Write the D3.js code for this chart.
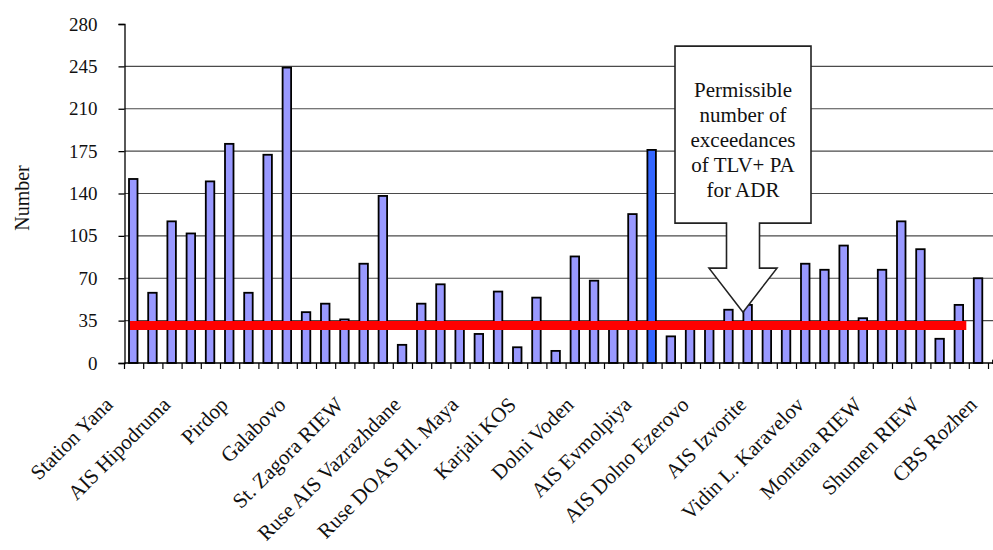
<!DOCTYPE html>
<html>
<head>
<meta charset="utf-8">
<script src="https://cdn.jsdelivr.net/npm/d3@7"></script>
<style>
  html, body { margin: 0; padding: 0; background: #fff; }
  svg { display: block; font-family: "Liberation Serif", "Times New Roman", serif; }
</style>
</head>
<body>
<svg id="chart" width="993" height="550"></svg>
<script>
// ---- data ----
const categories = [
  "Station Yana", "", "", "AIS Hipodruma", "", "", "Pirdop", "", "", "Galabovo", "", "",
  "St. Zagora RIEW", "", "", "Ruse AIS Vazrazhdane", "", "", "Ruse DOAS Hl. Maya", "", "",
  "Karjali KOS", "", "", "Dolni Voden", "", "", "AIS Evmolpiya", "", "", "AIS Dolno Ezerovo", "", "",
  "AIS Izvorite", "", "", "Vidin L. Karavelov", "", "", "Montana RIEW", "", "", "Shumen RIEW", "", "",
  "CBS Rozhen"
];
const values = [152, 58, 117, 107, 150, 181, 58, 172, 244, 42, 49, 36, 82, 138, 15, 49, 65, 31,
  24, 59, 13, 54, 10, 88, 68, 32, 123, 176, 22, 32, 32, 44, 48, 32, 32, 82, 77, 97, 37, 77, 117,
  94, 20, 48, 70, 2];
const highlighted = [27];
const yTicks = [0, 35, 70, 105, 140, 175, 210, 245, 280];
const threshold = 31;
const calloutLines = ["Permissible", "number of", "exceedances", "of TLV+ PA", "for ADR"];
const yTitle = "Number";

// ---- layout ----
const FONT = "Liberation Serif, Times New Roman, serif";
const svg = d3.select("#chart");
const x0 = 124.5, step = 19.2;
const x = d3.scaleBand().domain(d3.range(values.length))
  .range([x0, x0 + step * values.length]).paddingInner(0).paddingOuter(0);
const y = d3.scaleLinear().domain([0, 280]).range([363, 24]);
const bw = x.bandwidth();
const right = 993;

// gridlines
svg.append("g").selectAll("line").data(yTicks.filter(t => t > 0 && t < 280)).join("line")
  .attr("x1", x0).attr("x2", right)
  .attr("y1", d => y(d)).attr("y2", d => y(d))
  .attr("stroke", "#4a4a4a").attr("stroke-width", 1.2);

// y axis
const yAxis = svg.append("g").attr("transform", `translate(${x0},0)`)
  .call(d3.axisLeft(y).tickValues(yTicks).tickSize(6).tickPadding(21));
yAxis.attr("font-family", FONT);
yAxis.select(".domain").attr("stroke", "#000").attr("stroke-width", 1.3);
yAxis.selectAll(".tick line").attr("stroke", "#000").attr("stroke-width", 1.3);
yAxis.selectAll(".tick text").attr("font-size", 19).attr("fill", "#111")
  .attr("font-family", FONT);

// y title
svg.append("text")
  .attr("transform", `translate(29,198) rotate(-90)`)
  .attr("text-anchor", "middle")
  .attr("font-family", FONT)
  .attr("font-size", 20).attr("fill", "#111")
  .text(yTitle);

// bars
svg.append("g").selectAll("rect").data(values).join("rect")
  .attr("x", (d, i) => x(i) + 4.5)
  .attr("width", 8.5)
  .attr("y", d => y(d))
  .attr("height", d => y(0) - y(d))
  .attr("fill", (d, i) => highlighted.includes(i) ? "#3366ff" : "#9999ff")
  .attr("stroke", "#000").attr("stroke-width", 1.8);

// x axis
const xAxisG = svg.append("g");
xAxisG.append("line").attr("x1", x0).attr("x2", right).attr("y1", y(0)).attr("y2", y(0))
  .attr("stroke", "#000").attr("stroke-width", 1.3);
xAxisG.selectAll("line.tk").data(d3.range(values.length + 1)).join("line").attr("class", "tk")
  .attr("x1", i => x0 + i * step).attr("x2", i => x0 + i * step)
  .attr("y1", y(0)).attr("y2", y(0) + 6)
  .attr("stroke", "#000").attr("stroke-width", 1.2);

// x labels
svg.append("g").selectAll("text")
  .data(categories.map((c, i) => ({c, i})).filter(d => d.c !== ""))
  .join("text")
  .attr("transform", d => `translate(${x(d.i) + bw / 2 - 20},406) rotate(-45)`)
  .attr("text-anchor", "end")
  .attr("font-family", FONT)
  .attr("font-size", 21).attr("fill", "#111")
  .text(d => d.c);

// threshold line
svg.append("line")
  .attr("x1", x(0) + 5.5).attr("x2", x(43) + bw - 3)
  .attr("y1", y(threshold)).attr("y2", y(threshold))
  .attr("stroke", "#ff0000").attr("stroke-width", 9);

// callout (arrow box pointing at the threshold)
const tipX = x(32) + bw / 2 - 5.5, tipY = y(42);
const bx0 = tipX - 68, bx1 = tipX + 68, by0 = tipY - 266, by1 = tipY - 89;
const sh = 16.5, headY = tipY - 44, wing = 34;
const pts = [
  [bx0, by0], [bx1, by0], [bx1, by1], [tipX + sh, by1], [tipX + sh, headY], [tipX + wing, headY],
  [tipX, tipY], [tipX - wing, headY], [tipX - sh, headY], [tipX - sh, by1], [bx0, by1]
];
svg.append("path")
  .attr("d", d3.line()(pts) + "Z")
  .attr("fill", "#fff").attr("stroke", "#222").attr("stroke-width", 1.6);
svg.append("g").selectAll("text").data(calloutLines).join("text")
  .attr("x", tipX).attr("y", (d, i) => by0 + 51 + i * 25)
  .attr("text-anchor", "middle")
  .attr("font-family", FONT)
  .attr("font-size", 21).attr("fill", "#111")
  .text(d => d);
</script>
</body>
</html>
